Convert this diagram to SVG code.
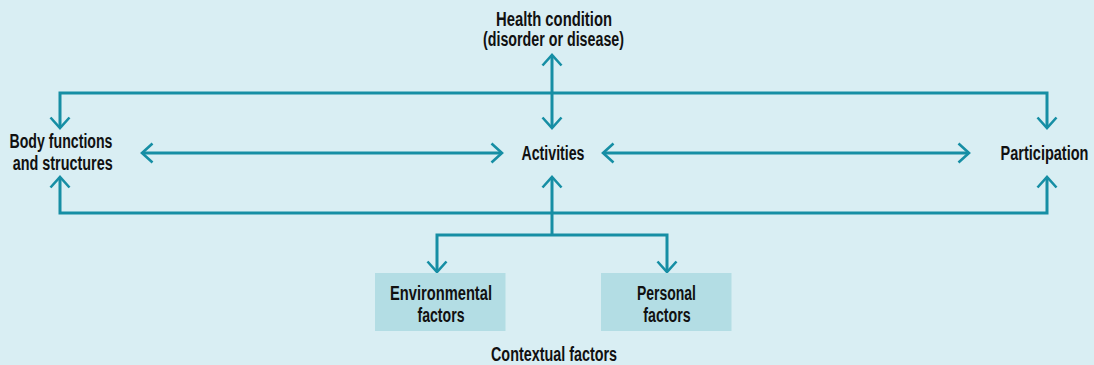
<svg xmlns="http://www.w3.org/2000/svg" width="1094" height="365" viewBox="0 0 1094 365">
<style>
.t{font-family:"Liberation Sans",Arial,sans-serif;font-weight:bold;font-size:19.5px;fill:#111;text-anchor:middle}
.c{fill:none;stroke:#168ea4;stroke-width:3}
.box{fill:#b3dde4}
</style>
<defs>
<marker id="ah" markerUnits="userSpaceOnUse" markerWidth="30" markerHeight="30" viewBox="-15 -15 30 30" refX="0" refY="0" orient="auto-start-reverse">
<path d="M-10.5 -9.5 L0 0 L-10.5 9.5" fill="none" stroke="#168ea4" stroke-width="2.6"/>
</marker>
</defs>
<rect width="1094" height="365" fill="#d9eef3"/>
<g id="connectors">
<path class="c" d="M60 128 V93 H1047 V128" marker-start="url(#ah)" marker-end="url(#ah)"/>
<path class="c" d="M60 177 V213 H1047 V177" marker-start="url(#ah)" marker-end="url(#ah)"/>
<path class="c" d="M552 55 V128" marker-start="url(#ah)" marker-end="url(#ah)"/>
<path class="c" d="M142 153 H502" marker-start="url(#ah)" marker-end="url(#ah)"/>
<path class="c" d="M603 153 H969" marker-start="url(#ah)" marker-end="url(#ah)"/>
<path class="c" d="M552 177 V235" marker-start="url(#ah)"/>
<path class="c" d="M437 272 V235 H667 V272" marker-start="url(#ah)" marker-end="url(#ah)"/>
</g>
<g id="health">
<text class="t" x="554" y="26" textLength="116" lengthAdjust="spacingAndGlyphs">Health condition</text>
<text class="t" x="553.5" y="46" textLength="141" lengthAdjust="spacingAndGlyphs">(disorder or disease)</text>
</g>
<g id="body">
<text class="t" x="61" y="148" textLength="103" lengthAdjust="spacingAndGlyphs">Body functions</text>
<text class="t" x="62.7" y="170" textLength="100" lengthAdjust="spacingAndGlyphs">and structures</text>
</g>
<g id="activities">
<text class="t" x="553" y="160" textLength="63" lengthAdjust="spacingAndGlyphs">Activities</text>
</g>
<g id="participation">
<text class="t" x="1044.5" y="160" textLength="88" lengthAdjust="spacingAndGlyphs">Participation</text>
</g>
<g id="environmental">
<rect class="box" x="375" y="273" width="130.5" height="58"/>
<text class="t" x="441" y="300" textLength="102" lengthAdjust="spacingAndGlyphs">Environmental</text>
<text class="t" x="441" y="322" textLength="47" lengthAdjust="spacingAndGlyphs">factors</text>
</g>
<g id="personal">
<rect class="box" x="601" y="273" width="130.5" height="58"/>
<text class="t" x="666.5" y="300" textLength="59" lengthAdjust="spacingAndGlyphs">Personal</text>
<text class="t" x="667" y="322" textLength="47.5" lengthAdjust="spacingAndGlyphs">factors</text>
</g>
<g id="contextual">
<text class="t" x="554" y="361" textLength="126" lengthAdjust="spacingAndGlyphs">Contextual factors</text>
</g>
</svg>
